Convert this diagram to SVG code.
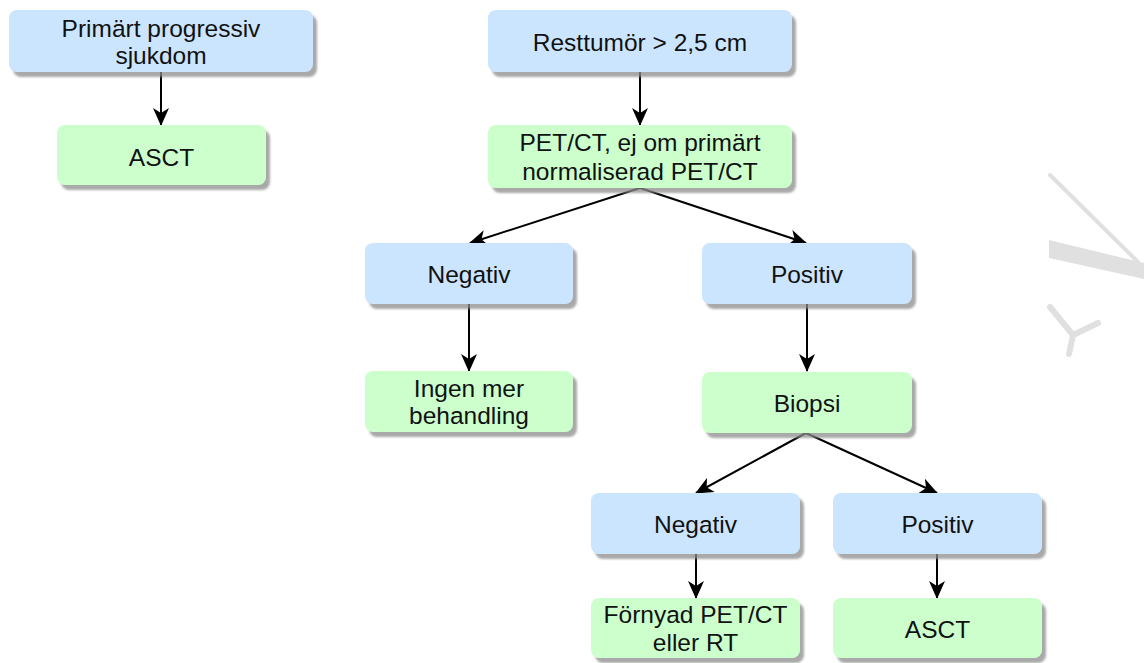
<svg xmlns="http://www.w3.org/2000/svg" width="1144" height="663" viewBox="0 0 1144 663">
<style>
  .blue { fill: #cce5ff; }
  .green { fill: #ccffcc; }
  .box { filter: url(#shadow); }
  text { font-family: "Liberation Sans", Arial, sans-serif; font-size: 24.5px; fill: #111111; text-anchor: middle; }
  .conn { stroke: #000000; stroke-width: 2; fill: none; marker-end: url(#arrow); }
  .wm { fill: #e0e0e0; stroke: none; }
  .wms { stroke: #e0e0e0; fill: none; stroke-linecap: round; stroke-linejoin: round; }
</style>
<defs>
  <filter id="shadow" x="-10%" y="-20%" width="125%" height="150%">
    <feDropShadow dx="4" dy="5" stdDeviation="1" flood-color="#8c8c8c" flood-opacity="0.75"/>
  </filter>
  <marker id="arrow" viewBox="0 0 18 16" refX="17" refY="8" markerWidth="18" markerHeight="16" markerUnits="userSpaceOnUse" orient="auto">
    <path d="M0,0 L18,8 L0,16 L5,8 Z" fill="#000000"/>
  </marker>
</defs>
<rect width="1144" height="663" fill="#ffffff"/>

<g id="watermark">
  <path class="wms" d="M1050,175 L1138,262" stroke-width="4"/>
  <polygon class="wm" points="1049,240 1144,263 1144,279 1049,258"/>
  <path class="wms" d="M1050,307 L1073,335 L1098,323 M1073,335 L1069,354" stroke-width="6"/>
</g>

<g id="connectors">
  <line class="conn" x1="161" y1="72" x2="161" y2="125"/>
  <line class="conn" x1="640" y1="72" x2="640" y2="125"/>
  <line class="conn" x1="640" y1="188" x2="470" y2="243"/>
  <line class="conn" x1="640" y1="188" x2="806" y2="243"/>
  <line class="conn" x1="469" y1="304" x2="469" y2="371"/>
  <line class="conn" x1="807" y1="304" x2="807" y2="371"/>
  <line class="conn" x1="806" y1="433" x2="696" y2="493"/>
  <line class="conn" x1="806" y1="433" x2="937" y2="493"/>
  <line class="conn" x1="696" y1="554" x2="696" y2="598"/>
  <line class="conn" x1="937" y1="554" x2="937" y2="598"/>
</g>

<g id="n1">
  <rect class="box blue" x="9" y="10" width="304" height="62" rx="8"/>
  <text x="161" y="37">Primärt progressiv</text>
  <text x="161" y="64">sjukdom</text>
</g>
<g id="n2">
  <rect class="box green" x="57" y="125" width="209" height="60" rx="8"/>
  <text x="161.5" y="166">ASCT</text>
</g>
<g id="n3">
  <rect class="box blue" x="488" y="10" width="304" height="62" rx="8"/>
  <text x="640" y="51">Resttumör &gt; 2,5 cm</text>
</g>
<g id="n4">
  <rect class="box green" x="488" y="125" width="304" height="63" rx="8"/>
  <text x="640" y="151">PET/CT, ej om primärt</text>
  <text x="640" y="180">normaliserad PET/CT</text>
</g>
<g id="n5">
  <rect class="box blue" x="365" y="243" width="208" height="61" rx="8"/>
  <text x="469" y="283">Negativ</text>
</g>
<g id="n6">
  <rect class="box green" x="365" y="371" width="208" height="61" rx="8"/>
  <text x="469" y="397">Ingen mer</text>
  <text x="469" y="424">behandling</text>
</g>
<g id="n7">
  <rect class="box blue" x="702" y="243" width="210" height="61" rx="8"/>
  <text x="807" y="283">Positiv</text>
</g>
<g id="n8">
  <rect class="box green" x="702" y="372" width="210" height="61" rx="8"/>
  <text x="807" y="412">Biopsi</text>
</g>
<g id="n9">
  <rect class="box blue" x="591" y="493" width="209" height="61" rx="8"/>
  <text x="695.5" y="533">Negativ</text>
</g>
<g id="n10">
  <rect class="box green" x="591" y="598" width="209" height="60" rx="8"/>
  <text x="695.5" y="623">Förnyad PET/CT</text>
  <text x="695.5" y="651">eller RT</text>
</g>
<g id="n11">
  <rect class="box blue" x="833" y="493" width="209" height="61" rx="8"/>
  <text x="937.5" y="533">Positiv</text>
</g>
<g id="n12">
  <rect class="box green" x="833" y="598" width="209" height="60" rx="8"/>
  <text x="937.5" y="638">ASCT</text>
</g>
</svg>
